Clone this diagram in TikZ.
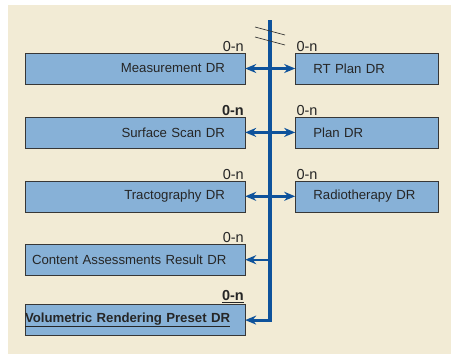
\documentclass[tikz,border=0pt]{standalone}
\usepackage{fontspec}
\setmainfont{Liberation Sans}
\usetikzlibrary{positioning,arrows.meta}
\definecolor{fondo}{RGB}{242,235,213}
\definecolor{relleno}{RGB}{135,177,215}
\definecolor{borde}{RGB}{55,55,55}
\definecolor{linea}{RGB}{14,82,155}
\begin{document}
\begin{tikzpicture}[x=1pt, y=-1pt,
        box/.style={draw=borde, fill=relleno, text=black!85, minimum width=220pt, minimum height=31pt, inner xsep=0pt, text width=180pt, align=right, font=\fontsize{13.2}{15}\selectfont},
        rbox/.style={box, minimum width=143pt, text width=107pt, align=left},
        card/.style={inner sep=1.2pt, text=black!85, font=\fontsize{14.5}{16}\selectfont},
        flecha/.style={draw=linea, line width=2.4pt, -{Stealth[length=11pt,width=9pt]}},
        dflecha/.style={flecha, {Stealth[length=11pt,width=9pt]}-{Stealth[length=11pt,width=9pt]}},
        eje/.style={flecha, line width=3.2pt},
        corte/.style={draw=borde, line width=0.7pt}
    ]
    \useasboundingbox (0,0) rectangle (451,354);
    \fill [fondo] (8,5) rectangle (451,354);

    \node (meas) [box] at (135,68.5) {Measurement DR};
    \node (surf) [box, below=32.5pt of meas] {Surface Scan DR};
    \node (tract) [box, below=32.5pt of surf] {Tractography DR};
    \node (cont) [box, below=32pt of tract, text width=206pt, align=left] {Content Assessments Result DR};
    \node (vol) [box, below=29pt of cont, text width=220pt, align=left] {\underline{\textbf{Volumetric Rendering Preset DR}}};

    \node (rtplan) [rbox, right=50pt of meas] {RT Plan DR};
    \node (plan) [rbox, right=50pt of surf] {Plan DR};
    \node (radio) [rbox, right=50pt of tract] {Radiotherapy DR};

    % cardinalidades
    \node (c1) [card, above left=0pt and 0pt of meas.north east] {0-n};
    \node (c2) [card, above left=0pt and 0pt of surf.north east] {\textbf{0-n}};
    \node (c3) [card, above left=0pt and 0pt of tract.north east] {0-n};
    \node (c4) [card, above left=0pt and 0pt of cont.north east] {0-n};
    \node (c5) [card, above left=0pt and 0pt of vol.north east] {\underline{\textbf{0-n}}};
    \node (d1) [card, above right=0pt and 0pt of rtplan.north west] {0-n};
    \node (d2) [card, above right=0pt and 0pt of plan.north west] {0-n};
    \node (d3) [card, above right=0pt and 0pt of radio.north west] {0-n};

    \coordinate (top) at (270,20);
    \draw [eje] (top) |- (vol);
    \draw [corte] (255,27) -- (285,35);
    \draw [corte] (255,37) -- (285,45);

    \draw [dflecha] (meas) -- (rtplan);
    \draw [dflecha] (surf) -- (plan);
    \draw [dflecha] (tract) -- (radio);
    \draw [flecha] (top |- cont.east) -- (cont);
\end{tikzpicture}
\end{document}
